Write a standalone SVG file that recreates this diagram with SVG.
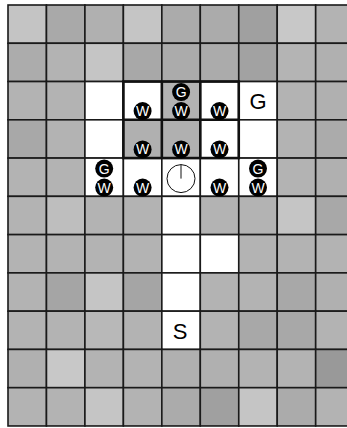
<svg xmlns="http://www.w3.org/2000/svg" width="347" height="428" viewBox="0 0 347 428">
<style>
.c{stroke:#1a1a1a;stroke-width:1.6}
.b{fill:#000}
.t{fill:#fff;font-family:"Liberation Sans",Arial,sans-serif;font-size:14px;text-anchor:middle}
.L{fill:#000;font-family:"Liberation Sans",Arial,sans-serif;font-size:22px;text-anchor:middle}
.thick{fill:none;stroke:#111;stroke-width:2.6}
</style>
<rect width="347" height="428" fill="#fff"/>
<g id="grid">
<!-- row 0 -->
<rect class="c" x="8" y="5" width="38.46" height="38.27" fill="#c4c4c4"/>
<rect class="c" x="46.46" y="5" width="38.46" height="38.27" fill="#a9a9a9"/>
<rect class="c" x="84.92" y="5" width="38.46" height="38.27" fill="#b0b0b0"/>
<rect class="c" x="123.38" y="5" width="38.46" height="38.27" fill="#c5c5c5"/>
<rect class="c" x="161.84" y="5" width="38.46" height="38.27" fill="#ababab"/>
<rect class="c" x="200.3" y="5" width="38.46" height="38.27" fill="#ababab"/>
<rect class="c" x="238.76" y="5" width="38.46" height="38.27" fill="#a0a0a0"/>
<rect class="c" x="277.22" y="5" width="38.46" height="38.27" fill="#c8c8c8"/>
<rect class="c" x="315.68" y="5" width="38.46" height="38.27" fill="#b3b3b3"/>
<!-- row 1 -->
<rect class="c" x="8" y="43.27" width="38.46" height="38.27" fill="#acacac"/>
<rect class="c" x="46.46" y="43.27" width="38.46" height="38.27" fill="#b3b3b3"/>
<rect class="c" x="84.92" y="43.27" width="38.46" height="38.27" fill="#c5c5c5"/>
<rect class="c" x="123.38" y="43.27" width="38.46" height="38.27" fill="#a8a8a8"/>
<rect class="c" x="161.84" y="43.27" width="38.46" height="38.27" fill="#ababab"/>
<rect class="c" x="200.3" y="43.27" width="38.46" height="38.27" fill="#ababab"/>
<rect class="c" x="238.76" y="43.27" width="38.46" height="38.27" fill="#a2a2a2"/>
<rect class="c" x="277.22" y="43.27" width="38.46" height="38.27" fill="#b4b4b4"/>
<rect class="c" x="315.68" y="43.27" width="38.46" height="38.27" fill="#b0b0b0"/>
<!-- row 2 -->
<rect class="c" x="8" y="81.54" width="38.46" height="38.27" fill="#b3b3b3"/>
<rect class="c" x="46.46" y="81.54" width="38.46" height="38.27" fill="#b3b3b3"/>
<rect class="c" x="84.92" y="81.54" width="38.46" height="38.27" fill="#fff"/>
<rect class="c" x="123.38" y="81.54" width="38.46" height="38.27" fill="#fff"/>
<rect class="c" x="161.84" y="81.54" width="38.46" height="38.27" fill="#b3b3b3"/>
<rect class="c" x="200.3" y="81.54" width="38.46" height="38.27" fill="#fff"/>
<rect class="c" x="238.76" y="81.54" width="38.46" height="38.27" fill="#fff"/>
<rect class="c" x="277.22" y="81.54" width="38.46" height="38.27" fill="#b3b3b3"/>
<rect class="c" x="315.68" y="81.54" width="38.46" height="38.27" fill="#b0b0b0"/>
<!-- row 3 -->
<rect class="c" x="8" y="119.81" width="38.46" height="38.27" fill="#a8a8a8"/>
<rect class="c" x="46.46" y="119.81" width="38.46" height="38.27" fill="#b3b3b3"/>
<rect class="c" x="84.92" y="119.81" width="38.46" height="38.27" fill="#fff"/>
<rect class="c" x="123.38" y="119.81" width="38.46" height="38.27" fill="#b0b0b0"/>
<rect class="c" x="161.84" y="119.81" width="38.46" height="38.27" fill="#b0b0b0"/>
<rect class="c" x="200.3" y="119.81" width="38.46" height="38.27" fill="#fff"/>
<rect class="c" x="238.76" y="119.81" width="38.46" height="38.27" fill="#fff"/>
<rect class="c" x="277.22" y="119.81" width="38.46" height="38.27" fill="#b3b3b3"/>
<rect class="c" x="315.68" y="119.81" width="38.46" height="38.27" fill="#ababab"/>
<!-- row 4 -->
<rect class="c" x="8" y="158.08" width="38.46" height="38.27" fill="#b3b3b3"/>
<rect class="c" x="46.46" y="158.08" width="38.46" height="38.27" fill="#b3b3b3"/>
<rect class="c" x="84.92" y="158.08" width="38.46" height="38.27" fill="#fff"/>
<rect class="c" x="123.38" y="158.08" width="38.46" height="38.27" fill="#fff"/>
<rect class="c" x="161.84" y="158.08" width="38.46" height="38.27" fill="#fff"/>
<rect class="c" x="200.3" y="158.08" width="38.46" height="38.27" fill="#fff"/>
<rect class="c" x="238.76" y="158.08" width="38.46" height="38.27" fill="#fff"/>
<rect class="c" x="277.22" y="158.08" width="38.46" height="38.27" fill="#b3b3b3"/>
<rect class="c" x="315.68" y="158.08" width="38.46" height="38.27" fill="#b0b0b0"/>
<!-- row 5 -->
<rect class="c" x="8" y="196.35" width="38.46" height="38.27" fill="#b3b3b3"/>
<rect class="c" x="46.46" y="196.35" width="38.46" height="38.27" fill="#bebebe"/>
<rect class="c" x="84.92" y="196.35" width="38.46" height="38.27" fill="#b3b3b3"/>
<rect class="c" x="123.38" y="196.35" width="38.46" height="38.27" fill="#b3b3b3"/>
<rect class="c" x="161.84" y="196.35" width="38.46" height="38.27" fill="#fff"/>
<rect class="c" x="200.3" y="196.35" width="38.46" height="38.27" fill="#b3b3b3"/>
<rect class="c" x="238.76" y="196.35" width="38.46" height="38.27" fill="#b3b3b3"/>
<rect class="c" x="277.22" y="196.35" width="38.46" height="38.27" fill="#c5c5c5"/>
<rect class="c" x="315.68" y="196.35" width="38.46" height="38.27" fill="#a8a8a8"/>
<!-- row 6 -->
<rect class="c" x="8" y="234.62" width="38.46" height="38.27" fill="#b3b3b3"/>
<rect class="c" x="46.46" y="234.62" width="38.46" height="38.27" fill="#b3b3b3"/>
<rect class="c" x="84.92" y="234.62" width="38.46" height="38.27" fill="#b3b3b3"/>
<rect class="c" x="123.38" y="234.62" width="38.46" height="38.27" fill="#b3b3b3"/>
<rect class="c" x="161.84" y="234.62" width="38.46" height="38.27" fill="#fff"/>
<rect class="c" x="200.3" y="234.62" width="38.46" height="38.27" fill="#fff"/>
<rect class="c" x="238.76" y="234.62" width="38.46" height="38.27" fill="#b3b3b3"/>
<rect class="c" x="277.22" y="234.62" width="38.46" height="38.27" fill="#b3b3b3"/>
<rect class="c" x="315.68" y="234.62" width="38.46" height="38.27" fill="#b3b3b3"/>
<!-- row 7 -->
<rect class="c" x="8" y="272.89" width="38.46" height="38.27" fill="#b3b3b3"/>
<rect class="c" x="46.46" y="272.89" width="38.46" height="38.27" fill="#a5a5a5"/>
<rect class="c" x="84.92" y="272.89" width="38.46" height="38.27" fill="#c5c5c5"/>
<rect class="c" x="123.38" y="272.89" width="38.46" height="38.27" fill="#a5a5a5"/>
<rect class="c" x="161.84" y="272.89" width="38.46" height="38.27" fill="#fff"/>
<rect class="c" x="200.3" y="272.89" width="38.46" height="38.27" fill="#b3b3b3"/>
<rect class="c" x="238.76" y="272.89" width="38.46" height="38.27" fill="#b3b3b3"/>
<rect class="c" x="277.22" y="272.89" width="38.46" height="38.27" fill="#a8a8a8"/>
<rect class="c" x="315.68" y="272.89" width="38.46" height="38.27" fill="#b0b0b0"/>
<!-- row 8 -->
<rect class="c" x="8" y="311.16" width="38.46" height="38.27" fill="#b3b3b3"/>
<rect class="c" x="46.46" y="311.16" width="38.46" height="38.27" fill="#b3b3b3"/>
<rect class="c" x="84.92" y="311.16" width="38.46" height="38.27" fill="#b8b8b8"/>
<rect class="c" x="123.38" y="311.16" width="38.46" height="38.27" fill="#b3b3b3"/>
<rect class="c" x="161.84" y="311.16" width="38.46" height="38.27" fill="#fff"/>
<rect class="c" x="200.3" y="311.16" width="38.46" height="38.27" fill="#b3b3b3"/>
<rect class="c" x="238.76" y="311.16" width="38.46" height="38.27" fill="#a8a8a8"/>
<rect class="c" x="277.22" y="311.16" width="38.46" height="38.27" fill="#a8a8a8"/>
<rect class="c" x="315.68" y="311.16" width="38.46" height="38.27" fill="#b3b3b3"/>
<!-- row 9 -->
<rect class="c" x="8" y="349.43" width="38.46" height="38.27" fill="#b0b0b0"/>
<rect class="c" x="46.46" y="349.43" width="38.46" height="38.27" fill="#c8c8c8"/>
<rect class="c" x="84.92" y="349.43" width="38.46" height="38.27" fill="#b3b3b3"/>
<rect class="c" x="123.38" y="349.43" width="38.46" height="38.27" fill="#b3b3b3"/>
<rect class="c" x="161.84" y="349.43" width="38.46" height="38.27" fill="#b0b0b0"/>
<rect class="c" x="200.3" y="349.43" width="38.46" height="38.27" fill="#b0b0b0"/>
<rect class="c" x="238.76" y="349.43" width="38.46" height="38.27" fill="#b3b3b3"/>
<rect class="c" x="277.22" y="349.43" width="38.46" height="38.27" fill="#b3b3b3"/>
<rect class="c" x="315.68" y="349.43" width="38.46" height="38.27" fill="#999999"/>
<!-- row 10 -->
<rect class="c" x="8" y="387.7" width="38.46" height="38.27" fill="#b3b3b3"/>
<rect class="c" x="46.46" y="387.7" width="38.46" height="38.27" fill="#b3b3b3"/>
<rect class="c" x="84.92" y="387.7" width="38.46" height="38.27" fill="#c5c5c5"/>
<rect class="c" x="123.38" y="387.7" width="38.46" height="38.27" fill="#b3b3b3"/>
<rect class="c" x="161.84" y="387.7" width="38.46" height="38.27" fill="#ababab"/>
<rect class="c" x="200.3" y="387.7" width="38.46" height="38.27" fill="#a0a0a0"/>
<rect class="c" x="238.76" y="387.7" width="38.46" height="38.27" fill="#c5c5c5"/>
<rect class="c" x="277.22" y="387.7" width="38.46" height="38.27" fill="#ababab"/>
<rect class="c" x="315.68" y="387.7" width="38.46" height="38.27" fill="#b3b3b3"/>
</g>
<g id="block">
<rect class="thick" x="123.38" y="81.54" width="115.38" height="76.54"/>
<line class="thick" x1="161.84" y1="81.54" x2="161.84" y2="158.08"/>
<line class="thick" x1="200.3" y1="81.54" x2="200.3" y2="158.08"/>
<line class="thick" x1="123.38" y1="119.81" x2="238.76" y2="119.81"/>
</g>
<g id="labels">
<text class="L" x="258" y="108.5">G</text>
<text class="L" x="180" y="339">S</text>
</g>
<g id="clock">
<circle cx="181" cy="178.6" r="14" fill="none" stroke="#111" stroke-width="1"/>
<line x1="181" y1="178.6" x2="181" y2="164.6" stroke="#111" stroke-width="1"/>
</g>
<g id="badges">
<g id="b32"><circle class="b" cx="142.6" cy="111.1" r="9"/><text class="t" x="142.6" y="116.1">W</text></g>
<g id="b42"><circle class="b" cx="181.1" cy="92.1" r="9"/><text class="t" x="181.1" y="97.1">G</text><circle class="b" cx="181.1" cy="111.1" r="9"/><text class="t" x="181.1" y="116.1">W</text></g>
<g id="b52"><circle class="b" cx="219.5" cy="111.1" r="9"/><text class="t" x="219.5" y="116.1">W</text></g>
<g id="b33"><circle class="b" cx="142.6" cy="149.4" r="9"/><text class="t" x="142.6" y="154.4">W</text></g>
<g id="b43"><circle class="b" cx="181.1" cy="149.4" r="9"/><text class="t" x="181.1" y="154.4">W</text></g>
<g id="b53"><circle class="b" cx="219.5" cy="149.4" r="9"/><text class="t" x="219.5" y="154.4">W</text></g>
<g id="b24"><circle class="b" cx="104.2" cy="168.6" r="9"/><text class="t" x="104.2" y="173.6">G</text><circle class="b" cx="104.2" cy="187.6" r="9"/><text class="t" x="104.2" y="192.6">W</text></g>
<g id="b34"><circle class="b" cx="142.6" cy="187.6" r="9"/><text class="t" x="142.6" y="192.6">W</text></g>
<g id="b54"><circle class="b" cx="219.5" cy="187.6" r="9"/><text class="t" x="219.5" y="192.6">W</text></g>
<g id="b64"><circle class="b" cx="258" cy="168.6" r="9"/><text class="t" x="258" y="173.6">G</text><circle class="b" cx="258" cy="187.6" r="9"/><text class="t" x="258" y="192.6">W</text></g>
</g>
<g id="connectors"/>
</svg>
